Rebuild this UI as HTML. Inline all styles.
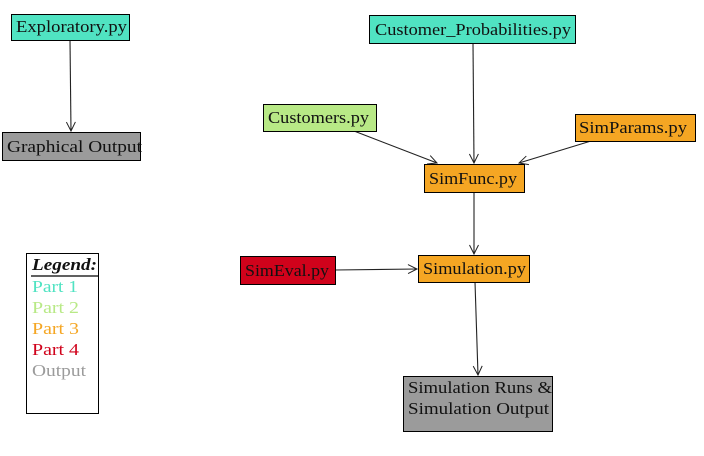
<!DOCTYPE html>
<html><head><meta charset="utf-8"><style>
html,body{margin:0;padding:0;background:#fff;width:704px;height:456px;overflow:hidden}
svg{display:block}
text{font-family:"Liberation Serif",serif;font-size:17px;fill:#111}
</style></head><body>
<svg width="704" height="456" viewBox="0 0 704 456" xmlns="http://www.w3.org/2000/svg">
<defs>
<marker id="a" markerWidth="12" markerHeight="12" refX="10" refY="6" orient="auto" markerUnits="userSpaceOnUse">
<path d="M1,1.5 L10,6 L1,10.5" fill="none" stroke="#222" stroke-width="1"/>
</marker>
</defs>
<g stroke="#222" stroke-width="1.1" fill="none" marker-end="url(#a)">
<line x1="70" y1="40" x2="71" y2="131"/>
<line x1="473" y1="43" x2="474" y2="163"/>
<line x1="354" y1="131" x2="437" y2="163"/>
<line x1="591" y1="141" x2="519" y2="163"/>
<line x1="474" y1="192" x2="474" y2="254"/>
<line x1="335" y1="270" x2="417" y2="269"/>
<line x1="475" y1="282" x2="478" y2="375"/>
</g>
<g stroke="#000" stroke-width="1">
<rect x="11.5" y="14.5" width="118" height="26" fill="#50e3c2"/>
<rect x="2.5" y="132.5" width="138" height="28" fill="#9b9b9b"/>
<rect x="369.5" y="15.5" width="206" height="28" fill="#50e3c2"/>
<rect x="263.5" y="104.5" width="113" height="27" fill="#b8e986"/>
<rect x="575.5" y="114.5" width="120" height="27" fill="#f5a623"/>
<rect x="424.5" y="164.5" width="100" height="28" fill="#f5a623"/>
<rect x="240.5" y="256.5" width="95" height="28" fill="#d0021b"/>
<rect x="418.5" y="255.5" width="111" height="27" fill="#f5a623"/>
<rect x="403.5" y="376.5" width="149" height="55" fill="#9b9b9b"/>
<rect x="26.5" y="253.5" width="72" height="160" fill="#fff"/>
</g>
<line x1="31" y1="276" x2="98" y2="276" stroke="#000" stroke-width="1.2"/>
<text x="16" y="32" textLength="111" lengthAdjust="spacingAndGlyphs">Exploratory.py</text>
<text x="7" y="152" textLength="135" lengthAdjust="spacingAndGlyphs">Graphical Output</text>
<text x="375" y="35" textLength="196" lengthAdjust="spacingAndGlyphs">Customer_Probabilities.py</text>
<text x="268" y="123" textLength="101" lengthAdjust="spacingAndGlyphs">Customers.py</text>
<text x="579" y="133" textLength="108" lengthAdjust="spacingAndGlyphs">SimParams.py</text>
<text x="429" y="184" textLength="88" lengthAdjust="spacingAndGlyphs">SimFunc.py</text>
<text x="245" y="276" textLength="84" lengthAdjust="spacingAndGlyphs">SimEval.py</text>
<text x="423" y="274" textLength="103" lengthAdjust="spacingAndGlyphs">Simulation.py</text>
<text x="408" y="393" textLength="144" lengthAdjust="spacingAndGlyphs">Simulation Runs &amp;</text>
<text x="408" y="414" textLength="141" lengthAdjust="spacingAndGlyphs">Simulation Output</text>
<text x="32" y="270" textLength="65" lengthAdjust="spacingAndGlyphs" style="font-weight:bold;font-style:italic">Legend:</text>
<text x="32" y="292" textLength="46" lengthAdjust="spacingAndGlyphs" style="fill:#50e3c2">Part 1</text>
<text x="32" y="313" textLength="47" lengthAdjust="spacingAndGlyphs" style="fill:#b8e986">Part 2</text>
<text x="32" y="334" textLength="47" lengthAdjust="spacingAndGlyphs" style="fill:#f5a623">Part 3</text>
<text x="32" y="355" textLength="47" lengthAdjust="spacingAndGlyphs" style="fill:#d0021b">Part 4</text>
<text x="32" y="376" textLength="54" lengthAdjust="spacingAndGlyphs" style="fill:#9b9b9b">Output</text>
</svg>
</body></html>
